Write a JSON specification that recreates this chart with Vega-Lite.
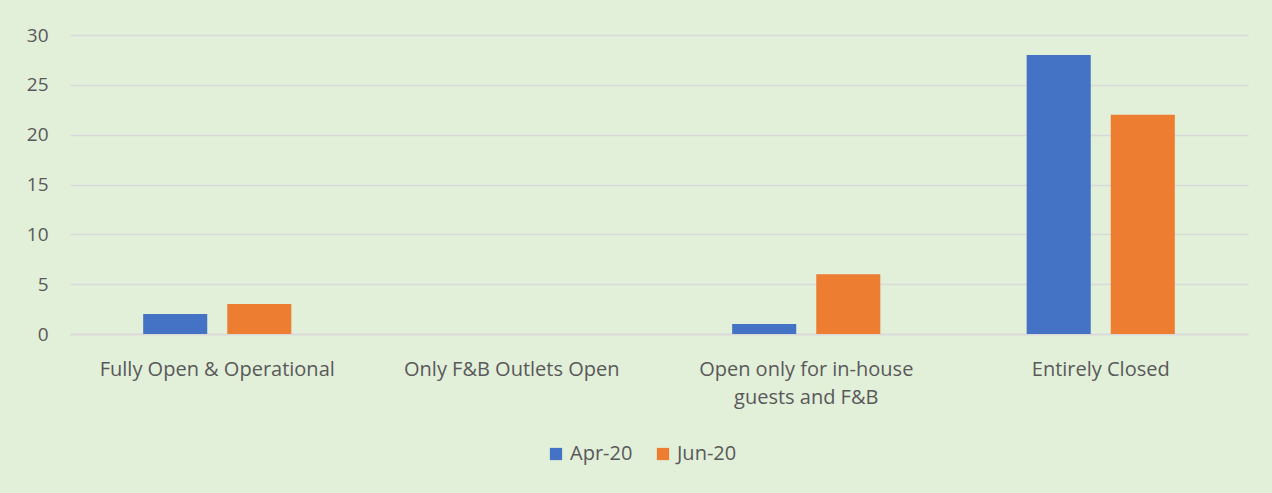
{
  "$schema": "https://vega.github.io/schema/vega-lite/v6.json",
  "autosize": "none",
  "width": 1178,
  "height": 299,
  "padding": {"left": 70, "top": 35, "right": 24, "bottom": 159},
  "background": "#e2efd9",
  "data": {
    "values": [
      {"status": "Fully Open & Operational", "period": "Apr-20", "count": 2},
      {"status": "Fully Open & Operational", "period": "Jun-20", "count": 3},
      {"status": "Only F&B Outlets Open", "period": "Apr-20", "count": 0},
      {"status": "Only F&B Outlets Open", "period": "Jun-20", "count": 0},
      {"status": "Open only for in-house guests and F&B", "period": "Apr-20", "count": 1},
      {"status": "Open only for in-house guests and F&B", "period": "Jun-20", "count": 6},
      {"status": "Entirely Closed", "period": "Apr-20", "count": 28},
      {"status": "Entirely Closed", "period": "Jun-20", "count": 22}
    ]
  },
  "mark": {"type": "bar"},
  "encoding": {
    "x": {
      "field": "status",
      "type": "nominal",
      "sort": null,
      "scale": {"paddingInner": 0.497, "paddingOuter": 0.2485},
      "axis": {
        "title": null,
        "labelAngle": 0,
        "labelPadding": 35,
        "labelFontSize": 20,
        "labelFont": "Open Sans",
        "labelColor": "#595959",
        "labelLineHeight": 28,
        "labelBaseline": "middle",
        "labelLimit": 0,
        "labelExpr": "datum.label == 'Open only for in-house guests and F&B' ? ['Open only for in-house', 'guests and F&B'] : datum.label",
        "ticks": false,
        "domainColor": "#d9d9d9",
        "domainWidth": 1.5
      }
    },
    "xOffset": {
      "field": "period",
      "type": "nominal",
      "scale": {"paddingInner": 0.238}
    },
    "y": {
      "field": "count",
      "type": "quantitative",
      "scale": {"domain": [0, 30]},
      "axis": {
        "title": null,
        "values": [0, 5, 10, 15, 20, 25, 30],
        "labelFontSize": 19,
        "labelFont": "Open Sans",
        "labelColor": "#595959",
        "labelPadding": 22,
        "ticks": false,
        "domain": false,
        "gridColor": "#d9d9d9",
        "gridWidth": 1.5
      }
    },
    "color": {
      "field": "period",
      "type": "nominal",
      "scale": {"domain": ["Apr-20", "Jun-20"], "range": ["#4472c4", "#ed7d31"]},
      "legend": {
        "title": null,
        "orient": "none",
        "direction": "horizontal",
        "legendX": 476,
        "legendY": 409,
        "symbolType": "square",
        "symbolSize": 150,
        "symbolStrokeWidth": 0,
        "labelFontSize": 20,
        "labelFont": "Open Sans",
        "labelColor": "#595959",
        "columnPadding": 20
      }
    }
  },
  "config": {"view": {"stroke": null}}
}
